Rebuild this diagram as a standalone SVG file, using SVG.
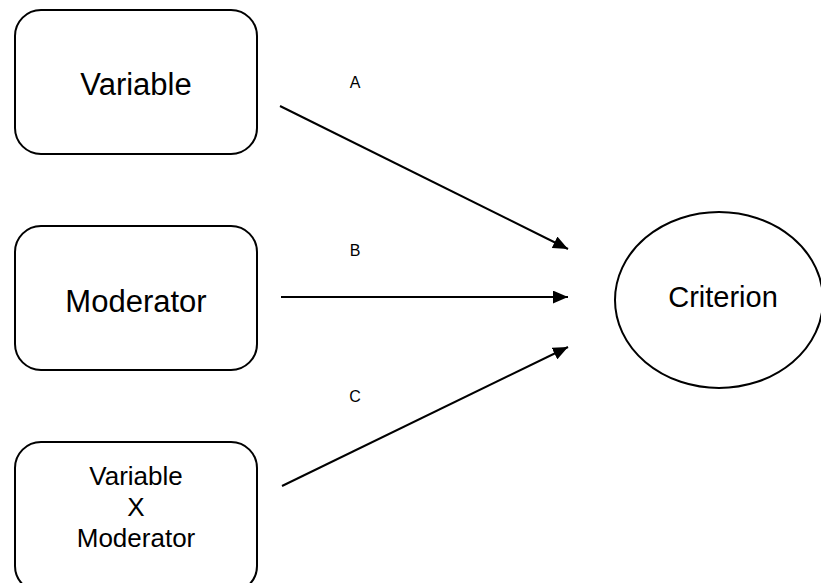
<svg xmlns="http://www.w3.org/2000/svg" width="821" height="583" viewBox="0 0 821 583">
<style>
.box{fill:#fff;stroke:#000;stroke-width:2}
.t{font-family:"Liberation Sans",Arial,sans-serif;fill:#000;text-anchor:middle}
.big{font-size:31px}
.crit{font-size:29px}
.mid{font-size:26px}
.lbl{font-size:16px}
.edge{stroke:#000;stroke-width:2;fill:none;marker-end:url(#ah)}
</style>
<defs>
<marker id="ah" viewBox="0 0 14 12" refX="14" refY="6" markerWidth="7.5" markerHeight="6.5" orient="auto" markerUnits="strokeWidth">
<path d="M0,0 L14,6 L0,12 z" fill="#000"/>
</marker>
</defs>
<rect width="821" height="583" fill="#fff"/>
<g id="variable">
<rect class="box" x="15" y="10" width="242" height="144" rx="26"/>
<text class="t big" x="136" y="95">Variable</text>
</g>
<g id="moderator">
<rect class="box" x="15" y="226" width="242" height="144" rx="26"/>
<text class="t big" x="136" y="312">Moderator</text>
</g>
<g id="interaction">
<rect class="box" x="15" y="442" width="242" height="150" rx="26"/>
<text class="t mid" x="136" y="485">Variable</text>
<text class="t mid" x="136" y="516">X</text>
<text class="t mid" x="136" y="547">Moderator</text>
</g>
<g id="criterion">
<ellipse class="box" cx="719" cy="300" rx="104" ry="88"/>
<text class="t crit" x="723" y="307">Criterion</text>
</g>
<g id="connectors">
<line class="edge" x1="280" y1="106" x2="568" y2="249"/>
<line class="edge" x1="281" y1="297" x2="568" y2="297"/>
<line class="edge" x1="282" y1="486" x2="568" y2="347"/>
<text class="t lbl" x="355" y="88">A</text>
<text class="t lbl" x="355" y="256">B</text>
<text class="t lbl" x="355" y="402">C</text>
</g>
</svg>
